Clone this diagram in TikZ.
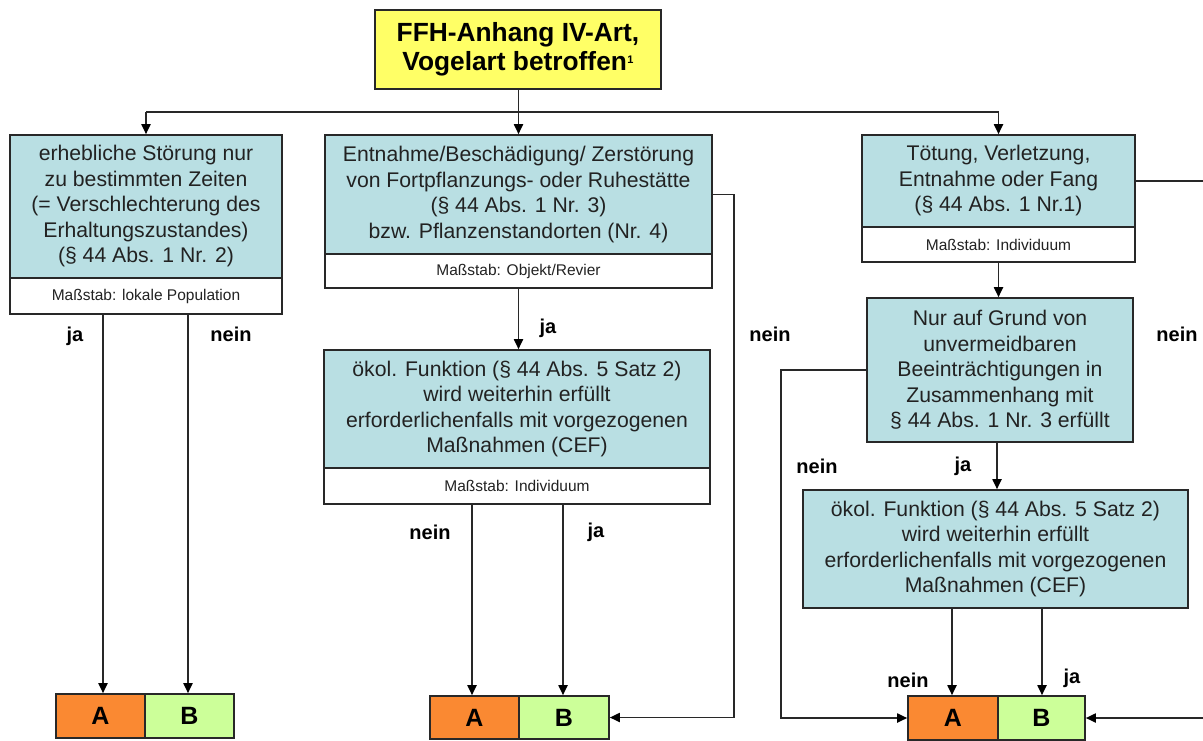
\documentclass[tikz,border=0pt]{standalone}
\usepackage{fontspec}
\setmainfont{Liberation Sans}
\usetikzlibrary{arrows.meta}
\definecolor{bluefill}{RGB}{185,223,227}
\definecolor{yellowfill}{RGB}{255,255,102}
\definecolor{orangefill}{RGB}{250,137,50}
\definecolor{greenfill}{RGB}{204,255,153}
\definecolor{linec}{RGB}{40,40,40}
\definecolor{textc}{RGB}{34,34,34}
\tikzset{
  bx/.style={draw=linec, line width=1.6pt, inner sep=0pt, align=center, text=textc},
  bluebox/.style={bx, fill=bluefill, font=\fontsize{21.2}{25.5}\selectfont},
  whitebox/.style={bx, fill=white, font=\fontsize{15.5}{18}\selectfont},
  titlebox/.style={bx, fill=yellowfill, text=black, font=\bfseries\fontsize{26.3}{29}\selectfont},
  abox/.style={bx, fill=orangefill, text=black, font=\bfseries\fontsize{25}{25}\selectfont},
  bbox/.style={bx, fill=greenfill, text=black, font=\bfseries\fontsize{25}{25}\selectfont},
  lbl/.style={inner sep=0pt, text=black, font=\bfseries\fontsize{20}{20}\selectfont},
  arr/.style={draw=linec, line width=1.8pt, -{Triangle[length=10pt,width=9pt,color=black]}},
  ln/.style={draw=linec, line width=1.8pt}
}
\begin{document}
\begin{tikzpicture}[x=1pt,y=-1pt]
\clip (0,0) rectangle (1203,740);
% title
\node[titlebox, minimum width=286, minimum height=79] (top) at (518,49.5)
  {FFH-Anhang IV-Art,\\Vogelart betroffen\kern0.5pt\raisebox{7pt}{\fontsize{11}{11}\selectfont 1}};
% left column
\node[bluebox, minimum width=272, minimum height=143] (lb) at (146,206.5)
  {erhebliche Störung nur\\zu bestimmten Zeiten\\(= Verschlechterung des\\Erhaltungszustandes)\\(§ 44 Abs. 1 Nr. 2)};
\node[whitebox, minimum width=272, minimum height=36] (lbw) at (146,296) {Maßstab: lokale Population};
% middle column
\node[bluebox, minimum width=387, minimum height=119] (mb) at (518.5,194.5)
  {Entnahme/Beschädigung/ Zerstörung\\von Fortpflanzungs- oder Ruhestätte\\(§ 44 Abs. 1 Nr. 3)\\bzw. Pflanzenstandorten (Nr. 4)};
\node[whitebox, minimum width=387, minimum height=34] (mbw) at (518.5,271) {Maßstab: Objekt/Revier};
\node[bluebox, minimum width=386, minimum height=118] (mb2) at (517,409)
  {ökol. Funktion (§ 44 Abs. 5 Satz 2)\\wird weiterhin erfüllt\\erforderlichenfalls mit vorgezogenen\\Maßnahmen (CEF)};
\node[whitebox, minimum width=386, minimum height=36] (mb2w) at (517,486) {Maßstab: Individuum};
% right column
\node[bluebox, minimum width=273, minimum height=92] (tb) at (998.5,181)
  {Tötung, Verletzung,\\Entnahme oder Fang\\(§ 44 Abs. 1 Nr.1)};
\node[whitebox, minimum width=273, minimum height=35] (tbw) at (998.5,244.5) {Maßstab: Individuum};
\node[bluebox, minimum width=266, minimum height=144] (nur) at (1000,370)
  {Nur auf Grund von\\unvermeidbaren\\Beeinträchtigungen in\\Zusammenhang mit\\§ 44 Abs. 1 Nr. 3 erfüllt};
\node[bluebox, minimum width=385, minimum height=118] (okr) at (995.5,549)
  {ökol. Funktion (§ 44 Abs. 5 Satz 2)\\wird weiterhin erfüllt\\erforderlichenfalls mit vorgezogenen\\Maßnahmen (CEF)};
% A/B boxes
\node[abox, minimum width=89, minimum height=44] (aL) at (100.5,716) {A};
\node[bbox, minimum width=89, minimum height=44] (bL) at (189.5,716) {B};
\node[abox, minimum width=89, minimum height=43] (aM) at (474.5,717.5) {A};
\node[bbox, minimum width=90, minimum height=43] (bM) at (564,717.5) {B};
\node[abox, minimum width=90, minimum height=44] (aR) at (953,718) {A};
\node[bbox, minimum width=87, minimum height=44] (bR) at (1041.5,718) {B};
% junctions
\coordinate (jL) at (146,112);
\coordinate (jR) at (998.5,112);
% connectors
\draw[arr] (top.south -| mb.north) -- (mb.north);
\draw[ln] (jL) -- (jR);
\draw[arr] (jL) -- (lb.north);
\draw[arr] (jR) -- (tb.north);
\draw[arr] ([xshift=2.5pt]aL.north |- lbw.south) -- ([xshift=2.5pt]aL.north);
\draw[arr] ([xshift=-1.5pt]bL.north |- lbw.south) -- ([xshift=-1.5pt]bL.north);
\draw[arr] (mbw.south) -- (mbw.south |- mb2.north);
\draw[arr] ([xshift=-2.5pt]aM.north |- mb2w.south) -- ([xshift=-2.5pt]aM.north);
\draw[arr] ([xshift=-1pt]bM.north |- mb2w.south) -- ([xshift=-1pt]bM.north);
\draw[arr] (mb.east) -- ++(21,0) |- (bM.east);
\draw[arr] (tbw.south) -- (tbw.south |- nur.north);
\draw[arr] (tb.east) -- ++(75,0) |- (bR.east);
\draw[arr] (nur.west) -- ++(-85,0) |- (aR.west);
\draw[arr] ([xshift=-3pt]nur.south) -- ([xshift=-3pt]nur.south |- okr.north);
\draw[arr] ([xshift=-1pt]aR.north |- okr.south) -- ([xshift=-1pt]aR.north);
\draw[arr] ([xshift=0.5pt]bR.north |- okr.south) -- ([xshift=0.5pt]bR.north);
% labels
\node[lbl] (l1) at (75,336) {ja};
\node[lbl] (l2) at (231,334) {nein};
\node[lbl] (l3) at (548,328) {ja};
\node[lbl] (l4) at (770,334) {nein};
\node[lbl] (l5) at (430,532) {nein};
\node[lbl] (l6) at (596,532) {ja};
\node[lbl] (l7) at (1177,334) {nein};
\node[lbl] (l8) at (817,466) {nein};
\node[lbl] (l9) at (963,466) {ja};
\node[lbl] (l10) at (908,680) {nein};
\node[lbl] (l11) at (1072,678) {ja};
\end{tikzpicture}
\end{document}
